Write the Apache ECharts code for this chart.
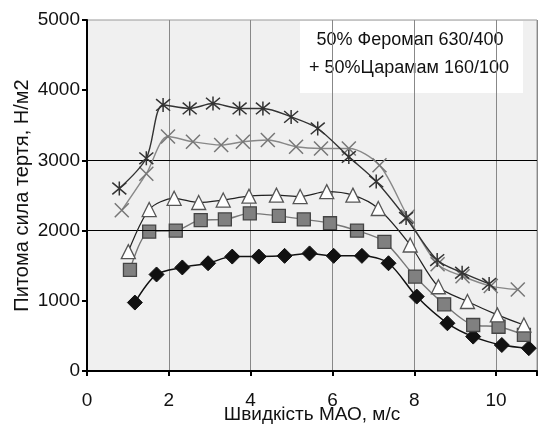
<!DOCTYPE html>
<html><head><meta charset="utf-8">
<script src="https://cdn.jsdelivr.net/npm/echarts@6/dist/echarts.min.js"></script>
<style>html,body{margin:0;padding:0;background:#fff}#c{width:545px;height:428px}</style>
</head><body><div id="c"></div>
<script>
// Data
var starX = [0.79,1.45,1.86,2.51,3.08,3.73,4.30,4.99,5.64,6.40,7.07,7.80,8.56,9.17,9.83];
var starY = [2600,3030,3790,3740,3810,3740,3740,3620,3455,3050,2700,2180,1580,1400,1240];
var crossX = [0.85,1.45,1.98,2.59,3.28,3.81,4.42,5.11,5.72,6.40,7.15,7.84,8.57,9.18,9.87,10.53];
var crossY = [2290,2810,3340,3265,3220,3265,3290,3195,3170,3170,2930,2200,1520,1350,1210,1160];
var triX = [1.01,1.52,2.13,2.73,3.33,3.96,4.63,5.21,5.86,6.50,7.12,7.90,8.59,9.30,10.03,10.68];
var triY = [1700,2300,2460,2400,2435,2490,2505,2485,2555,2505,2315,1795,1200,990,800,655];
var sqX = [1.05,1.52,2.17,2.78,3.37,3.98,4.69,5.30,5.94,6.60,7.27,8.02,8.73,9.44,10.06,10.68];
var sqY = [1440,1985,2000,2150,2160,2245,2210,2160,2105,2000,1840,1345,950,655,630,515];
var diaX = [1.17,1.70,2.33,2.96,3.55,4.20,4.83,5.44,6.03,6.72,7.37,8.06,8.81,9.44,10.14,10.80];
var diaY = [975,1375,1475,1535,1630,1630,1640,1675,1640,1640,1535,1060,680,490,370,325];
var refLines = [2000, 3000];
var xName = 'Швидкість МАО, м/с';
var yName = 'Питома сила тертя, Н/м2';
var noteLines = ['50% Феромап 630/400', '+ 50%Царамам 160/100'];

function pairs(xs, ys){ return xs.map(function(x,i){ return [x, ys[i]]; }); }
var FONT = '"Liberation Sans", Arial, sans-serif';

var chart = echarts.init(document.getElementById('c'));
chart.setOption({
  animation: false,
  backgroundColor: '#fff',
  grid: {left: 87, top: 20, width: 450, height: 351, show: true, outerBoundsMode: 'none', containLabel: false,
         backgroundColor: '#f0f0f0', borderColor: '#999', borderWidth: 1},
  xAxis: {
    type: 'value', min: 0, max: 11, interval: 2,
    name: xName, nameLocation: 'middle', nameGap: 34, nameMoveOverlap: false,
    nameTextStyle: {fontFamily: FONT, fontSize: 19, color: '#111'},
    axisLine: {show: true, lineStyle: {color: '#000', width: 2}},
    axisTick: {show: true, length: 5, lineStyle: {color: '#000', width: 2}},
    axisLabel: {margin: 20, fontFamily: FONT, fontSize: 19, color: '#111',
      formatter: function(v){ return (v % 2 === 0) ? String(v) : ''; }},
    splitLine: {show: true, lineStyle: {color: '#888', width: 1}}
  },
  yAxis: {
    type: 'value', min: 0, max: 5000, interval: 1000,
    name: yName, nameLocation: 'middle', nameGap: 55, nameRotate: 90, nameMoveOverlap: false,
    nameTextStyle: {fontFamily: FONT, fontSize: 20, color: '#111'},
    axisLine: {show: true, lineStyle: {color: '#000', width: 2}},
    axisTick: {show: true, length: 5, lineStyle: {color: '#000', width: 2}},
    axisLabel: {margin: 7, fontFamily: FONT, fontSize: 19, color: '#111',
      formatter: function(v){ return String(v); }},
    splitLine: {show: false}
  },
  graphic: [{
    type: 'group', z: 1,
    children: [
      {type: 'rect', shape: {x: 300, y: 21, width: 223, height: 72}, style: {fill: '#fff'}},
      {type: 'text', style: {x: 410, y: 40, text: noteLines[0], font: '18px ' + FONT, fill: '#111', align: 'center', verticalAlign: 'middle'}},
      {type: 'text', style: {x: 409, y: 68, text: noteLines[1], font: '18px ' + FONT, fill: '#111', align: 'center', verticalAlign: 'middle'}}
    ]
  }],
  series: [
    {type: 'line', data: pairs(diaX, diaY), smooth: 0.3, z: 3,
     lineStyle: {color: '#111', width: 1.5},
     symbol: 'diamond', symbolSize: 15,
     itemStyle: {color: '#111', borderColor: '#111', borderWidth: 1},
     markLine: {silent: true, symbol: 'none', label: {show: false},
       lineStyle: {color: '#000', width: 1, type: 'solid'},
       data: refLines.map(function(v){ return {yAxis: v}; })}},
    {type: 'line', data: pairs(sqX, sqY), smooth: 0.3, z: 4,
     lineStyle: {color: '#777', width: 1.4},
     symbol: 'rect', symbolSize: 13,
     itemStyle: {color: '#808080', borderColor: '#444', borderWidth: 1.3}},
    {type: 'line', data: pairs(triX, triY), smooth: 0.3, z: 5,
     lineStyle: {color: '#222', width: 1.2},
     symbol: 'triangle', symbolSize: 14,
     itemStyle: {color: '#fff', borderColor: '#555', borderWidth: 1.3}},
    {type: 'line', data: pairs(crossX, crossY), smooth: 0.3, z: 6,
     lineStyle: {color: '#888', width: 1.4},
     symbol: 'path://M0,0L10,10M10,0L0,10', symbolSize: 14,
     itemStyle: {color: 'none', borderColor: '#777', borderWidth: 1.5}},
    {type: 'line', data: pairs(starX, starY), smooth: 0.3, z: 7,
     lineStyle: {color: '#333', width: 1.4},
     symbol: 'path://M0,1L10,11M10,1L0,11M5,0L5,12', symbolSize: 14,
     itemStyle: {color: 'none', borderColor: '#333', borderWidth: 1.5}}
  ]
});
</script></body></html>
